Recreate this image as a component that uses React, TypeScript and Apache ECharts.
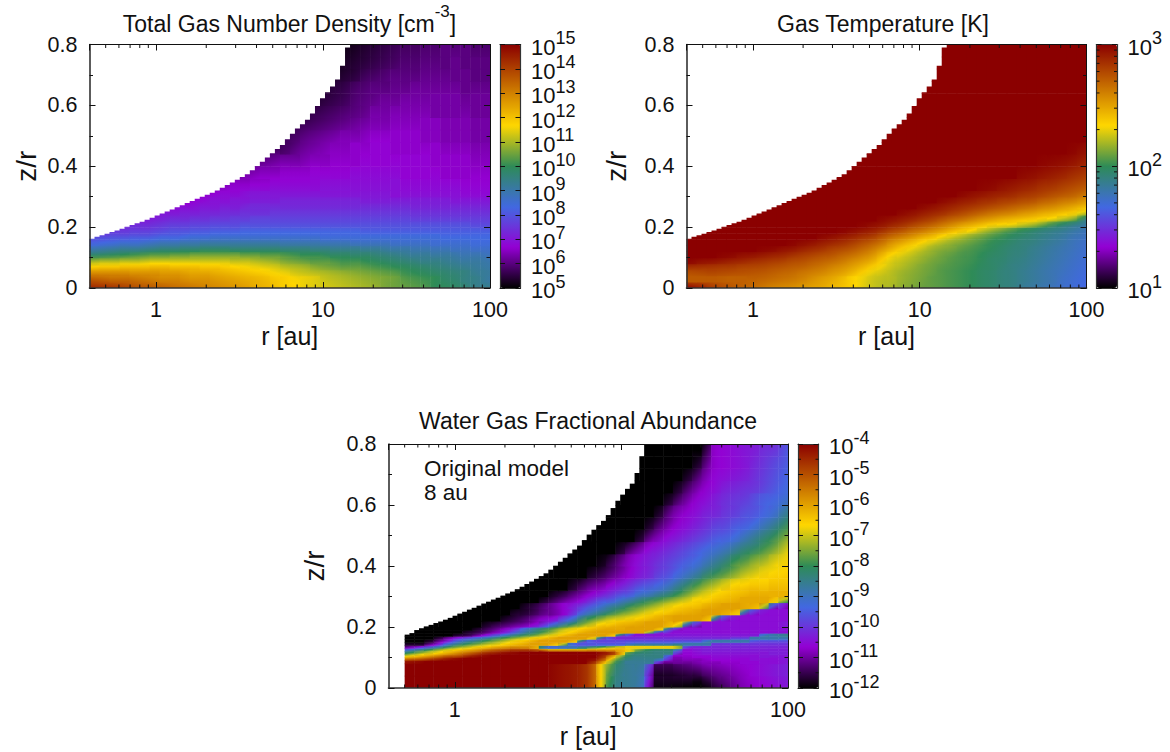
import React, { useEffect, useRef } from "react";
import * as echarts from "echarts";

// Palette of the colour bars, bottom to top
const palette = ["#000000", "#9400d3", "#4169e1", "#2e8b57", "#ffd700", "#c56b00", "#8b0000"];

// Row edges in z/r
const zEdgesAB = [0, .02, .04, .06, .08, .10, .12, .14, .16, .18, .20, .22, .24, .26, .28, .30, .32, .36, .40, .44, .48, .52, .56, .60, .64, .68, .72, .76, .80];
const zEdgesC = [0, .04, .08, .09, .10, .11, .12, .13, .14, .15, .16, .17, .18, .19, .20, .22, .24, .26, .28, .30, .32, .36, .40, .44, .48, .52, .56, .60, .64, .68, .72, .76, .80];

// Upper surface of the model (z/r) per half column; beyond the list it is off the plot
const surfaceAB = [.162,.168,.173,.178,.184,.189,.195,.201,.207,.213,.218,.224,.231,.238,.245,.251,.258,.265,.272,.279,.286,.293,.3,.306,.313,.32,.329,.338,.347,.356,.365,.374,.387,.401,.415,.429,.443,.457,.47,.489,.507,.524,.538,.553,.573,.598,.623,.643,.662,.685,.73,.79];
const surfaceC = [.175,.18,.19,.196,.202,.207,.213,.218,.224,.23,.237,.244,.25,.257,.263,.27,.277,.283,.29,.296,.303,.31,.316,.324,.332,.341,.349,.358,.367,.376,.388,.401,.414,.427,.441,.454,.467,.485,.503,.519,.534,.548,.567,.59,.614,.634,.653,.67,.705,.76];

// Total gas density: log10(n) x 10, rows bottom-up; short rows are right-aligned
const densityRows = [
  [141,140,139,138,136,135,134,133,132,131,130,129,128,127,126,125,123,122,120,118,117,115,114,113,112,111,110,109,108,106,105,104,103,102,100,99,98,96,94,93],
  [135,134,133,133,132,131,130,129,129,128,127,127,126,125,124,123,122,121,119,118,116,115,114,112,111,110,109,108,107,106,105,103,102,101,100,98,97,95,94,92],
  [128,128,128,128,127,127,127,126,126,125,124,124,123,122,121,120,119,118,116,115,113,112,111,110,109,108,107,106,105,104,103,101,100,99,98,97,96,95,93,92],
  [118,119,119,120,120,120,121,121,120,120,120,119,119,118,117,116,115,114,113,111,110,109,107,106,105,104,104,103,102,101,100,99,98,97,96,95,94,93,92,91],
  [108,109,109,110,110,111,112,112,112,112,112,112,112,112,111,111,110,109,108,106,105,104,103,103,102,101,101,100,99,98,97,96,95,94,94,93,92,91,91,90],
  [97,98,99,100,101,102,103,103,104,104,105,105,105,105,105,104,104,103,103,102,101,100,100,99,98,98,97,97,96,95,94,93,92,92,91,91,90,89,89,88],
  [89,90,91,92,92,93,94,95,95,96,96,97,97,97,96,96,96,96,96,95,95,95,94,94,93,93,93,92,92,91,90,90,89,89,88,88,87,87,86,86],
  [82,83,84,85,85,86,87,88,88,89,89,90,90,90,90,90,90,90,90,89,89,89,89,88,88,88,87,87,87,87,86,86,86,86,85,85,85,85,84,84],
  [78,78,79,79,80,80,81,82,82,83,84,84,85,85,85,85,85,85,85,85,85,85,85,84,84,84,84,84,84,84,84,84,84,84,84,83,83,83,83,83],
  [74,74,75,75,76,76,77,78,79,79,80,80,81,81,81,82,82,82,82,82,82,82,82,82,82,82,82,81,81,81,81,81,81,81,81,81,81,81,81,81],
  [72,72,72,72,73,73,74,75,76,76,77,77,78,78,78,79,79,79,79,79,79,79,79,79,79,79,79,79,79,79,79,79,79,79,79,79,79,79,78,78],
  [70,70,70,70,70,70,71,72,73,73,74,74,75,75,76,76,77,77,77,77,77,77,77,77,77,77,77,77,77,77,77,77,76,76,76,76,76,76,76,76],
  [70,70,71,71,72,72,73,73,74,74,74,75,75,75,75,75,75,75,75,75,75,75,75,75,75,74,74,74,74,74,74,74,74],
  [68,68,69,70,70,71,71,72,73,73,73,73,73,73,73,73,73,73,73,73,73,73,73,73,72,72,72,72,72,72,72,72],
  [67,68,69,69,70,70,71,71,71,72,72,72,72,72,72,72,72,71,71,71,71,71,71,71,71,71,70,70,70,70],
  [66,67,68,68,69,70,70,70,70,70,70,70,70,70,70,70,70,70,70,69,69,69,69,69,69,69,68,68,68],
  [65,66,66,67,67,68,68,68,68,68,69,69,69,69,69,69,69,69,68,68,68,68,68,68,67,67,67],
  [63,64,65,65,66,66,66,67,67,67,67,68,68,68,68,68,67,67,67,67,66,66,66,66,66],
  [61,62,63,63,64,65,65,66,66,66,67,67,67,67,67,67,67,66,66,66,66,65,65],
  [57,58,60,62,63,64,65,65,66,66,67,67,66,66,66,66,66,65,65,65,64,64],
  [57,58,60,61,62,63,64,64,65,66,66,66,66,66,65,65,64,64,64,63,63],
  [56,57,58,59,60,61,62,63,64,64,65,65,65,65,65,64,64,64,63,63],
  [55,56,57,58,59,60,61,63,63,64,64,64,64,63,63,63,63,62,62],
  [54,55,56,57,59,60,61,62,62,63,63,63,63,63,63,62,62,62],
  [54,55,56,58,59,60,60,61,61,62,62,62,62,62,61,61,61],
  [53,54,55,57,58,59,60,60,60,61,61,61,61,61,60,60],
  [53,54,55,56,57,58,59,59,60,60,60,61,60,60,60],
  [52,53,54,55,56,57,58,58,59,59,60,60,60,59,59],
];

// Gas temperature: log10(T) x 100, rows bottom-up; short rows are right-aligned
const temperatureRows = [
  [288,284,279,275,272,270,268,265,262,260,258,255,252,249,245,241,236,230,225,222,220,216,213,210,208,206,204,202,200,197,195,192,190,186,183,180,177,173,170,167],
  [272,272,272,271,270,270,270,269,267,265,263,260,256,252,248,243,236,231,226,223,221,217,214,211,208,206,204,202,200,197,195,192,190,187,184,181,178,174,171,168],
  [276,277,278,277,276,275,274,273,271,269,267,264,261,258,254,250,244,237,230,226,222,218,215,212,209,206,204,202,200,197,195,192,190,187,184,181,178,175,172,169],
  [286,285,284,283,282,280,279,278,276,274,272,270,267,264,260,256,251,245,238,231,225,221,217,213,210,207,205,203,201,198,196,193,190,188,185,182,179,176,173,170],
  [298,296,295,293,291,289,287,285,283,281,278,276,273,270,267,263,258,253,247,237,228,224,220,216,212,209,206,204,202,199,196,194,191,189,186,183,180,177,174,171],
  [300,300,300,299,298,296,295,293,291,289,286,283,280,277,274,270,266,261,255,245,235,229,224,219,215,211,208,205,203,200,197,195,192,190,187,184,181,178,175,172],
  [300,300,300,300,300,300,300,299,298,296,294,291,288,285,281,278,274,269,263,255,246,238,231,225,219,215,212,208,205,202,199,196,193,191,188,185,182,179,176,173],
  [299,297,295,292,289,286,282,277,272,265,256,249,242,235,228,222,217,213,209,205,201,198,195,192,190,187,184,181,177,174],
  [300,298,296,293,290,286,282,275,268,262,256,249,243,235,228,222,216,211,206,202,198,195,192,189,186,183,179,176],
  [300,299,297,294,291,286,280,275,269,264,258,252,245,239,233,225,218,212,206,201,197,193,190,187,183,179],
  [300,299,297,294,290,286,281,276,271,265,259,253,248,243,238,235,232,227,222,214,205,198,192,186],
  [300,298,296,293,290,286,282,277,272,268,263,258,254,250,247,244,241,237,233,227,220,203],
  [300,298,296,293,290,287,283,279,275,271,267,264,261,257,254,250,247,243,239,231],
  [300,298,296,293,290,287,284,281,278,275,272,269,266,262,259,255,251,246],
  [300,298,296,293,291,288,286,283,281,278,276,272,269,265,262,257],
  [300,298,296,294,292,290,288,285,283,280,277,274,271,267],
  [300,299,298,296,294,292,290,287,285,282,279,276],
  [300,298,297,295,293,291,288,285],
  [299,298,297,295,292],
  [299,297],
  [],[],[],[],[],[],[],[],
];

// Water abundance: log10(x) x 10, rows bottom-up; short rows are right-aligned
const waterRows = [
  [-40,-40,-40,-40,-40,-40,-40,-40,-40,-40,-40,-40,-40,-40,-40,-41,-42,-43,-45,-50,-66,-80,-85,-86,-88,-104,-118,-118,-118,-118,-119,-117,-114,-112,-110,-108,-107,-106,-105,-104],
  [-40,-40,-40,-40,-40,-40,-40,-40,-40,-40,-40,-40,-40,-40,-40,-41,-42,-43,-45,-50,-66,-78,-84,-86,-87,-100,-116,-116,-115,-114,-113,-111,-110,-109,-108,-107,-106,-105,-104,-103],
  [-42,-41,-40,-40,-40,-40,-40,-40,-40,-40,-40,-40,-40,-40,-40,-40,-40,-40,-40,-44,-56,-72,-82,-86,-86,-86,-100,-110,-110,-110,-109,-108,-108,-107,-107,-106,-106,-105,-105,-104],
  [-54,-52,-49,-46,-43,-41,-40,-40,-40,-40,-40,-40,-40,-40,-40,-40,-40,-40,-40,-41,-48,-64,-78,-84,-85,-85,-88,-100,-109,-108,-108,-107,-106,-106,-106,-106,-105,-105,-105,-104],
  [-68,-64,-60,-56,-52,-50,-46,-43,-41,-40,-40,-40,-40,-40,-40,-40,-40,-40,-40,-40,-44,-56,-72,-82,-84,-84,-84,-95,-107,-107,-106,-106,-105,-105,-105,-105,-105,-104,-104,-104],
  [-80,-75,-70,-66,-62,-58,-54,-50,-46,-44,-42,-41,-40,-40,-40,-40,-40,-40,-40,-40,-42,-46,-60,-78,-82,-83,-84,-84,-100,-106,-105,-104,-104,-104,-104,-104,-104,-104,-103,-103],
  [-92,-86,-80,-74,-69,-65,-62,-59,-55,-52,-50,-48,-48,-50,-56,-62,-62,-62,-62,-60,-60,-60,-62,-68,-76,-80,-82,-82,-90,-105,-104,-103,-103,-103,-103,-103,-103,-103,-103,-103],
  [-110,-105,-98,-90,-82,-76,-72,-68,-65,-62,-60,-58,-58,-60,-86,-92,-90,-90,-88,-84,-80,-75,-70,-68,-68,-68,-68,-68,-72,-98,-102,-102,-102,-102,-102,-102,-102,-102,-102,-102],
  [-118,-118,-113,-105,-94,-86,-81,-77,-73,-70,-67,-64,-62,-60,-60,-62,-70,-92,-96,-96,-96,-96,-96,-92,-90,-90,-90,-90,-88,-88,-88,-88,-100,-100,-100,-100,-100,-100,-100,-100],
  [-120,-120,-118,-112,-104,-95,-89,-85,-80,-76,-72,-68,-65,-62,-60,-60,-60,-62,-84,-96,-98,-98,-98,-98,-98,-98,-98,-98,-98,-98,-98,-92,-88,-88,-88,-88,-95,-96,-96,-96],
  [-120,-120,-120,-117,-111,-105,-100,-95,-90,-85,-80,-76,-72,-68,-65,-62,-60,-60,-60,-64,-86,-98,-102,-102,-102,-102,-102,-102,-102,-102,-102,-102,-102,-102,-100,-100,-88,-88,-88,-88],
  [-118,-116,-112,-106,-99,-93,-87,-82,-78,-73,-69,-65,-62,-60,-60,-60,-62,-84,-97,-104,-104,-104,-104,-104,-104,-104,-104,-104,-104,-104,-104,-104,-92,-88,-86],
  [-118,-116,-113,-109,-104,-97,-89,-84,-79,-74,-69,-66,-63,-61,-60,-60,-60,-60,-60,-70,-90,-100,-105,-105,-105,-105,-105,-105,-105,-105,-105,-105,-105,-105],
  [-118,-115,-112,-108,-103,-94,-88,-83,-78,-73,-69,-66,-64,-62,-61,-61,-60,-60,-60,-63,-86,-100,-105,-105,-105,-105,-105,-105,-105,-105,-105,-105,-105],
  [-118,-116,-114,-112,-110,-107,-102,-95,-88,-82,-76,-71,-67,-65,-63,-62,-61,-60,-60,-62,-66,-88,-100,-105,-105,-105,-105,-105,-105,-105,-105,-104],
  [-118,-116,-114,-111,-108,-106,-100,-94,-85,-80,-76,-72,-70,-68,-66,-64,-62,-61,-60,-60,-60,-62,-86,-100,-104,-105,-105,-105,-105,-105],
  [-118,-117,-115,-112,-110,-107,-102,-95,-90,-86,-82,-78,-75,-72,-69,-67,-65,-63,-62,-61,-60,-60,-61,-63,-88,-100,-104,-105,-105],
  [-118,-116,-113,-110,-107,-104,-100,-96,-92,-88,-85,-81,-78,-75,-72,-69,-67,-65,-64,-62,-61,-60,-60,-61,-62,-70,-96,-103],
  [-118,-115,-112,-109,-106,-102,-98,-96,-92,-89,-85,-82,-79,-76,-73,-70,-67,-66,-64,-63,-62,-61,-61,-61,-64,-70],
  [-118,-116,-113,-110,-107,-104,-101,-98,-96,-92,-90,-87,-84,-80,-76,-72,-69,-67,-65,-64,-63,-62,-62,-62,-62],
  [-118,-115,-112,-110,-107,-104,-101,-98,-96,-94,-91,-87,-83,-79,-75,-72,-69,-67,-66,-65,-65,-64,-64],
  [-118,-116,-113,-110,-107,-104,-102,-99,-97,-94,-91,-88,-84,-81,-78,-75,-72,-70,-68,-67,-66],
  [-119,-116,-112,-108,-105,-103,-101,-99,-97,-95,-93,-90,-87,-84,-80,-78,-75,-73,-70,-68],
  [-118,-114,-110,-106,-104,-102,-100,-98,-96,-94,-92,-90,-87,-84,-82,-79,-76,-72],
  [-118,-113,-109,-106,-104,-102,-100,-98,-96,-95,-93,-90,-87,-84,-81,-77],
  [-118,-114,-110,-107,-105,-103,-101,-99,-98,-96,-95,-93,-90,-87,-83],
  [-118,-113,-109,-107,-105,-103,-102,-100,-99,-97,-96,-94,-92,-88],
  [-118,-114,-110,-107,-105,-103,-101,-100,-99,-97,-95,-94,-92],
  [-118,-114,-110,-107,-105,-103,-102,-101,-100,-98,-96,-94],
  [-118,-114,-109,-106,-105,-104,-103,-101,-99,-97,-95],
  [-118,-112,-107,-106,-105,-104,-102,-100,-98,-96],
  [-115,-107,-106,-105,-104,-103,-101,-100,-97],
];

// Tick positions and colour-bar exponents
const rMinorTicks = [.5, .6, .7, .8, .9, 2, 3, 4, 5, 6, 7, 8, 9, 20, 30, 40, 50, 60, 70, 80, 90];
const rLabels = [1, 10, 100];
const tempBarMinor = [1.301, 1.477, 1.602, 1.699, 1.778, 1.845, 1.903, 1.954, 2.301, 2.477, 2.602, 2.699, 2.778, 2.845, 2.903, 2.954];
const waterBarMinor = [-11.5, -10.5, -9.5, -8.5, -7.5, -6.5, -5.5, -4.5];
const densityExponents = [5, 6, 7, 8, 9, 10, 11, 12, 13, 14, 15];
const temperatureExponents = [1, 2, 3];
const waterExponents = [-12, -11, -10, -9, -8, -7, -6, -5, -4];

const font = "Liberation Sans";
const black = "#111";

const panels = [
  { rows: densityRows, zEdges: zEdgesAB, surface: surfaceAB, start: Math.log10(0.4), step: 0.06, scale: 10, fill: 60,
    left: 89.5, top: 44.5, width: 400.5, height: 243.5, barLeft: 500, barMin: 5, barMax: 15, barMinor: [] as number[], exponents: densityExponents, zGap: 49,
    title: "{a|Total Gas Number Density [cm}{s|-3}{a|]}", titleX: 289.5, titleY: 3 },
  { rows: temperatureRows, zEdges: zEdgesAB, surface: surfaceAB, start: Math.log10(0.4), step: 0.06, scale: 100, fill: 300,
    left: 686.5, top: 44.5, width: 400, height: 243.5, barLeft: 1096.5, barMin: 1, barMax: 3, barMinor: tempBarMinor, exponents: temperatureExponents, zGap: 56,
    title: "{a|Gas Temperature [K]}", titleX: 883, titleY: 3 },
  { rows: waterRows, zEdges: zEdgesC, surface: surfaceC, start: Math.log10(0.5), step: 0.0575, scale: 10, fill: -120,
    left: 388.5, top: 444, width: 399.5, height: 244, barLeft: 798, barMin: -12, barMax: -4, barMinor: waterBarMinor, exponents: waterExponents, zGap: 60,
    title: "{a|Water Gas Fractional Abundance}", titleX: 588, titleY: 400 },
];

type Panel = (typeof panels)[number];

// Full table in exponent units, with short rows padded on the left
function table(p: Panel) {
  return p.rows.map((row) => {
    const offset = 40 - row.length;
    const full: number[] = [];
    for (let i = 0; i < 40; i++) full.push((i < offset ? p.fill : row[i - offset]) / p.scale);
    return full;
  });
}

const surfaceAt = (p: Panel, k: number) => p.surface[k] ?? 0.8;

function cells(p: Panel) {
  const out: number[][] = [];
  const edge = (q: number) => 10 ** (p.start + p.step * q);
  table(p).forEach((row, j) => {
    row.forEach((v, i) => {
      const z0 = p.zEdges[j], top = p.zEdges[j + 1];
      const sA = surfaceAt(p, 2 * i), sB = surfaceAt(p, 2 * i + 1);
      if (top <= Math.min(sA, sB)) {
        out.push([edge(i), z0, v, edge(i + 1), top, i, j]);
      } else {
        if (sA > z0) out.push([edge(i), z0, v, edge(i + 0.5), Math.min(top, sA), i, j]);
        if (sB > z0) out.push([edge(i + 0.5), z0, v, edge(i + 1), Math.min(top, sB), i, j]);
      }
    });
  });
  return out;
}

const paletteRgb = palette.map((c) => [parseInt(c.slice(1, 3), 16), parseInt(c.slice(3, 5), 16), parseInt(c.slice(5, 7), 16)]);
function colorOf(p: Panel, v: number) {
  const t = Math.max(0, Math.min(1, (v - p.barMin) / (p.barMax - p.barMin))) * 6;
  const k = Math.min(5, Math.floor(t));
  const f = t - k;
  const c = paletteRgb[k].map((a, n) => Math.round(a + (paletteRgb[k + 1][n] - a) * f));
  return `rgb(${c[0]},${c[1]},${c[2]})`;
}

// Slope of a cell from its two neighbours: steep steps stay sharp, as in the reference
function limited(a: number | null, b: number | null) {
  if (a === null) return b ?? 0;
  if (b === null) return a;
  return a * b <= 0 ? 0 : (2 * a * b) / (a + b);
}

function cellRenderer(p: Panel) {
  const m = table(p);
  const visible = (i: number, j: number) =>
    i >= 0 && i < 40 && j >= 0 && j < m.length && p.zEdges[j] < Math.max(surfaceAt(p, 2 * i), surfaceAt(p, 2 * i + 1));
  const centre = (j: number) => (p.zEdges[j] + p.zEdges[j + 1]) / 2;
  const pxZ = p.height / 0.8;
  return (_: any, api: any) => {
    const i = api.value(5), j = api.value(6), v = api.value(2);
    const a = api.coord([api.value(0), api.value(1)]);
    const b = api.coord([api.value(3), api.value(4)]);
    const xL = api.coord([10 ** (p.start + p.step * i), 0.1])[0];
    const xR = api.coord([10 ** (p.start + p.step * (i + 1)), 0.1])[0];
    const w = xR - xL, hFull = (p.zEdges[j + 1] - p.zEdges[j]) * pxZ;
    const cx = xL + w / 2, cy = a[1] - hFull / 2;
    const gx = limited(visible(i - 1, j) ? (v - m[j][i - 1]) / w : null, visible(i + 1, j) ? (m[j][i + 1] - v) / w : null);
    // y pixels grow downward, so gy is the change per pixel going down
    const gy = limited(
      visible(i, j + 1) ? (v - m[j + 1][i]) / ((centre(j + 1) - centre(j)) * pxZ) : null,
      visible(i, j - 1) ? (m[j - 1][i] - v) / ((centre(j) - centre(j - 1)) * pxZ) : null);
    const g = Math.hypot(gx, gy);
    let fill: any = colorOf(p, v);
    if (g > 1e-6) {
      const ux = gx / g, uy = gy / g;
      const d = (Math.abs(ux) * w + Math.abs(uy) * hFull) / 2;
      fill = {
        type: "linear", global: true,
        x: cx - ux * d, y: cy - uy * d, x2: cx + ux * d, y2: cy + uy * d,
        colorStops: [
          { offset: 0, color: colorOf(p, v - g * d) },
          { offset: 0.5, color: fill },
          { offset: 1, color: colorOf(p, v + g * d) },
        ],
      };
    }
    return {
      type: "rect",
      shape: { x: a[0], y: b[1], width: b[0] - a[0] + 0.5, height: a[1] - b[1] + 0.5 },
      style: { fill },
      silent: true,
    };
  };
}

const rTick = (_: any, api: any) => {
  const a = api.coord([api.value(0), api.value(1)]);
  const dir = api.value(1) === 0 ? -1 : 1;
  return { type: "line", shape: { x1: a[0], y1: a[1], x2: a[0], y2: a[1] + dir * 3.5 }, style: { stroke: black, lineWidth: 1 }, silent: true };
};
const barTick = (_: any, api: any) => {
  const a = api.coord([api.value(0), api.value(1)]);
  const dir = api.value(0) === 0 ? 1 : -1;
  return { type: "line", shape: { x1: a[0], y1: a[1], x2: a[0] + dir * 3, y2: a[1] }, style: { stroke: black, lineWidth: 1 }, silent: true };
};
// A colour-bar label: "10" beside the tick with its exponent raised
const barLabel = (_: any, api: any) => {
  const a = api.coord([1, api.value(0)]);
  const text = (s: string, x: number, y: number, size: number) => ({
    type: "text", x, y, silent: true,
    style: { text: s, fontFamily: font, fontSize: size, fill: black, align: "left", verticalAlign: "middle" },
  });
  return {
    type: "group",
    children: [
      text("10", a[0] + 10.5, a[1] + 2.5, 22),
      text(String(api.value(0)), a[0] + 35, a[1] - 6.5, 18),
    ],
  };
};

function buildOption() {
  const grid: any[] = [], xAxis: any[] = [], yAxis: any[] = [], series: any[] = [], visualMap: any[] = [], title: any[] = [];
  panels.forEach((p, k) => {
    series.push({
      type: "custom", coordinateSystem: "cartesian2d", xAxisIndex: k * 4, yAxisIndex: k * 4, renderItem: cellRenderer(p),
      data: cells(p), encode: { x: [0, 3], y: [1, 4] }, z: 1, clip: true, silent: true,
    });
  });
  panels.forEach((p, k) => {
    const gMain = k * 2, gBar = k * 2 + 1;
    grid.push({ left: p.left, top: p.top, width: p.width, height: p.height, containLabel: false });
    grid.push({ left: p.barLeft, top: p.top, width: 20.5, height: p.height, containLabel: false });
    const strong = { show: true, onZero: false, lineStyle: { color: "#333", width: 1.6 } };
    const thin = { show: true, onZero: false, lineStyle: { color: black, width: 1 } };
    const tick = { show: true, inside: true, length: 6, lineStyle: { color: black, width: 1 } };
    const rAxis = (position: string, labelled: boolean) => ({
      type: "log", logBase: 10, gridIndex: gMain, position, min: 0.4, max: 100, z: 6,
      axisLine: labelled ? strong : thin, axisTick: tick, splitLine: { show: false }, minorTick: { show: false }, minorSplitLine: { show: false },
      axisLabel: labelled
        ? { show: true, margin: 11, fontFamily: font, fontSize: 21.5, color: black, showMinLabel: false,
            formatter: (v: number) => { const m = rLabels.find((x) => Math.abs(x - v) < 1e-6 * x); return m ? String(m) : ""; } }
        : { show: false },
      ...(labelled ? { name: "r [au]", nameLocation: "middle", nameGap: 35, nameTextStyle: { fontFamily: font, fontSize: 25, color: black } } : {}),
    });
    const zAxis = (position: string, labelled: boolean) => ({
      type: "value", gridIndex: gMain, position, min: 0, max: 0.8, interval: 0.2, z: 6,
      axisLine: labelled ? strong : thin, axisTick: tick, splitLine: { show: false },
      minorTick: { show: true, splitNumber: 2, length: 3.5, lineStyle: { color: black, width: 1 } },
      axisLabel: labelled ? { show: true, margin: 12, fontFamily: font, fontSize: 21.5, color: black, formatter: (v: number) => (v === 0 ? "0" : v.toFixed(1)) } : { show: false },
      ...(labelled ? { name: "z/r", nameLocation: "middle", nameGap: p.zGap, nameTextStyle: { fontFamily: font, fontSize: 28, color: black } } : {}),
    });
    xAxis.push(rAxis("bottom", true), rAxis("top", false));
    yAxis.push(zAxis("left", true), zAxis("right", false));
    const barX = (position: string) => ({
      type: "value", gridIndex: gBar, position, min: 0, max: 1, z: 6,
      axisLine: { show: true, onZero: false, lineStyle: { color: "#333", width: 1.2 } }, axisTick: { show: false }, axisLabel: { show: false }, splitLine: { show: false },
    });
    const barY = (position: string) => ({
      type: "value", gridIndex: gBar, position, min: p.barMin, max: p.barMax, interval: 1, z: 6,
      axisLine: { show: true, onZero: false, lineStyle: { color: "#333", width: 1.2 } },
      axisTick: { show: true, inside: true, length: 5, lineStyle: { color: black, width: 1 } }, splitLine: { show: false },
      axisLabel: { show: false },
    });
    xAxis.push(barX("bottom"), barX("top"));
    yAxis.push(barY("left"), barY("right"));
    visualMap.push({
      type: "continuous", seriesIndex: k, dimension: 2, min: p.barMin, max: p.barMax, inRange: { color: palette },
      left: p.barLeft, top: p.top, itemWidth: 20.5, itemHeight: p.height, padding: 0, text: null, calculable: false,
      showLabel: false, hoverLink: false, z: 2, realtime: false,
    });
    title.push({
      text: p.title, left: p.titleX, top: p.titleY, textAlign: "center", padding: 0,
      textStyle: { fontWeight: "normal", rich: {
        a: { fontFamily: font, fontSize: 23, fontWeight: "normal", color: black, verticalAlign: "bottom", lineHeight: 32 },
        s: { fontFamily: font, fontSize: 17, fontWeight: "normal", color: black, verticalAlign: "top", lineHeight: 18 },
      } },
    });
  });
  panels.forEach((p, k) => {
    const xi = k * 4, yi = k * 4;
    series.push({
      type: "custom", coordinateSystem: "cartesian2d", xAxisIndex: xi, yAxisIndex: yi, renderItem: rTick, z: 7, clip: false, silent: true,
      encode: { x: 0, y: 1 }, data: [...rMinorTicks.map((r) => [r, 0]), ...rMinorTicks.map((r) => [r, 0.8])],
    });
    series.push({
      type: "custom", coordinateSystem: "cartesian2d", xAxisIndex: xi + 2, yAxisIndex: yi + 2, renderItem: barLabel, z: 7, clip: false, silent: true,
      encode: { y: 0 }, data: p.exponents.map((e) => [e]),
    });
    if (p.barMinor.length) {
      series.push({
        type: "custom", coordinateSystem: "cartesian2d", xAxisIndex: xi + 2, yAxisIndex: yi + 2, renderItem: barTick, z: 7, clip: false, silent: true,
        encode: { x: 0, y: 1 }, data: [...p.barMinor.map((v) => [0, v]), ...p.barMinor.map((v) => [1, v])],
      });
    }
  });
  return {
    animation: false, backgroundColor: "#fff", grid, xAxis, yAxis, series, visualMap, title,
    graphic: [
      { type: "text", left: 424, top: 456, z: 20, style: { text: "Original model\n8 au", fontFamily: font, fontSize: 22.5, lineHeight: 24, fill: black } },
    ],
  };
}

export default function App() {
  const ref = useRef<HTMLDivElement>(null);
  useEffect(() => {
    const chart = echarts.init(ref.current!, null, { renderer: "svg" });
    chart.setOption(buildOption() as any);
    return () => chart.dispose();
  }, []);
  return <div ref={ref} style={{ position: "absolute", left: 0, top: 0, width: 1170, height: 752 }} />;
}
